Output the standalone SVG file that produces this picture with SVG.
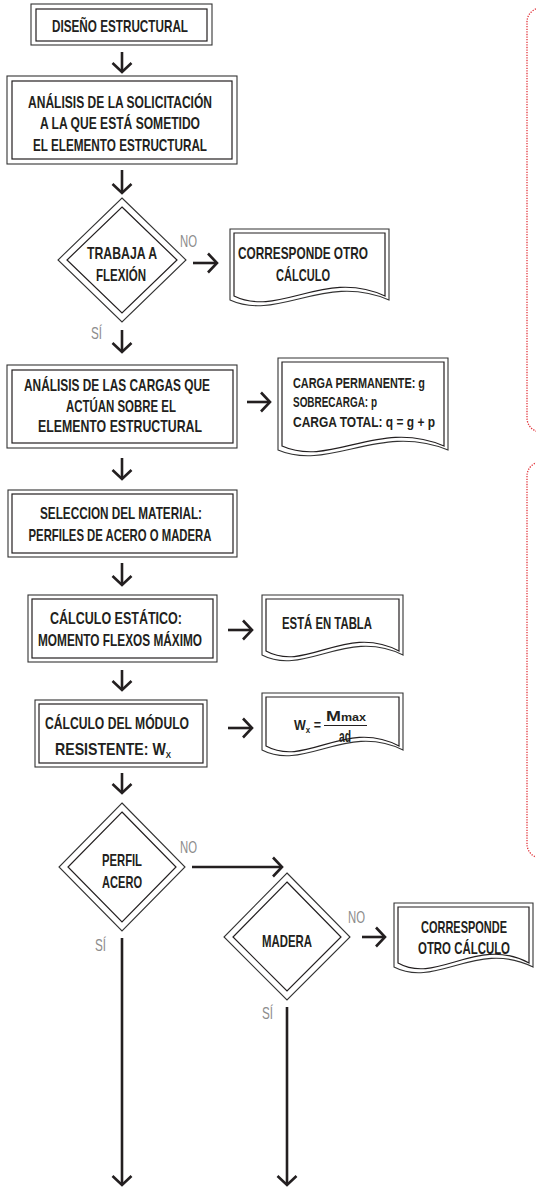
<svg xmlns="http://www.w3.org/2000/svg" width="536" height="1189" viewBox="0 0 536 1189">
<style>
.bg{fill:#fff}
.o{fill:#fff;stroke:#333;stroke-width:1.1}
.i{fill:none;stroke:#231f20;stroke-width:1.2}
.t{font-family:"Liberation Sans Narrow","Liberation Sans",Arial,sans-serif;font-weight:bold;font-size:17px;fill:#231f20;text-anchor:middle}
.s{font-family:"Liberation Sans Narrow","Liberation Sans",Arial,sans-serif;font-weight:bold;font-size:15px;fill:#231f20}
.l{font-family:"Liberation Sans Narrow","Liberation Sans",Arial,sans-serif;font-size:16.5px;fill:#8c8c8c}
.c{fill:none;stroke:#231f20;stroke-width:2.6;marker-end:url(#ah)}
.r{fill:none;stroke:#e2353c;stroke-width:1.3;stroke-dasharray:1.3 1.3}
</style>
<defs>
<marker id="ah" markerUnits="userSpaceOnUse" markerWidth="26" markerHeight="26" viewBox="-13 -13 26 26" refX="0" refY="0" orient="auto" overflow="visible">
<path d="M-9,-9.5 L0,0 L-9,9.5" fill="none" stroke="#231f20" stroke-width="2.6" stroke-linecap="butt"/>
</marker>
</defs>
<rect class="bg" x="0" y="0" width="536" height="1189"/>

<g id="notes">
<rect class="r" x="527" y="8" width="40" height="424" rx="14"/>
<rect class="r" x="527" y="462" width="40" height="396" rx="14"/>
</g>

<g id="n1">
<rect class="o" x="31" y="4" width="181" height="41"/>
<rect class="i" x="36" y="9" width="171" height="32"/>
<text class="t" x="120" y="31.5" textLength="136" lengthAdjust="spacingAndGlyphs">DISEÑO ESTRUCTURAL</text>
</g>

<g id="n2">
<rect class="o" x="7" y="76" width="230" height="88"/>
<rect class="i" x="12" y="81" width="220" height="78"/>
<text class="t" x="120" y="107.5" textLength="184" lengthAdjust="spacingAndGlyphs">ANÁLISIS DE LA SOLICITACIÓN</text>
<text class="t" x="120" y="129" textLength="160" lengthAdjust="spacingAndGlyphs">A LA QUE ESTÁ SOMETIDO</text>
<text class="t" x="120" y="150.5" textLength="174" lengthAdjust="spacingAndGlyphs">EL ELEMENTO ESTRUCTURAL</text>
</g>

<g id="d1">
<polygon class="o" points="122,198 186,260 122,322 58,260"/>
<polygon class="i" points="122,207 177,260 122,313 67,260"/>
<text class="t" x="122" y="258.5" textLength="70" lengthAdjust="spacingAndGlyphs">TRABAJA A</text>
<text class="t" x="121" y="280.5" textLength="50" lengthAdjust="spacingAndGlyphs">FLEXIÓN</text>
</g>

<g id="doc1">
<path class="o" d="M230,229 H389 V300 C325,272 278,322 230,300 Z"/>
<path class="i" d="M234,233 H385 V296 C325,268 279,318 234,296 Z"/>
<text class="t" x="303" y="258.5" textLength="130" lengthAdjust="spacingAndGlyphs">CORRESPONDE OTRO</text>
<text class="t" x="303" y="280.5" textLength="54" lengthAdjust="spacingAndGlyphs">CÁLCULO</text>
</g>

<g id="n3">
<rect class="o" x="7" y="365" width="230" height="83"/>
<rect class="i" x="12" y="370" width="221" height="73"/>
<text class="t" x="117" y="390.5" textLength="186" lengthAdjust="spacingAndGlyphs">ANÁLISIS DE LAS CARGAS QUE</text>
<text class="t" x="121" y="411.5" textLength="110" lengthAdjust="spacingAndGlyphs">ACTÚAN SOBRE EL</text>
<text class="t" x="120" y="432" textLength="164" lengthAdjust="spacingAndGlyphs">ELEMENTO ESTRUCTURAL</text>
</g>

<g id="doc2">
<path class="o" d="M278,358 H448 V450 C380,422 329,472 278,450 Z"/>
<path class="i" d="M282,362 H444 V446 C379,418 331,468 282,446 Z"/>
<text class="s" x="293" y="388" textLength="132" lengthAdjust="spacingAndGlyphs">CARGA PERMANENTE: g</text>
<text class="s" x="293" y="407" textLength="84" lengthAdjust="spacingAndGlyphs">SOBRECARGA: p</text>
<text class="s" x="293" y="427" textLength="142" lengthAdjust="spacingAndGlyphs">CARGA TOTAL: q = g + p</text>
</g>

<g id="n4">
<rect class="o" x="8" y="490" width="229" height="67"/>
<rect class="i" x="12" y="494" width="221" height="59"/>
<text class="t" x="121" y="518.5" textLength="162" lengthAdjust="spacingAndGlyphs">SELECCION DEL MATERIAL:</text>
<text class="t" x="120" y="540.5" textLength="183" lengthAdjust="spacingAndGlyphs">PERFILES DE ACERO O MADERA</text>
</g>

<g id="n5">
<rect class="o" x="28" y="595" width="189" height="67"/>
<rect class="i" x="32" y="599" width="181" height="59"/>
<text class="t" x="116" y="623.5" textLength="132" lengthAdjust="spacingAndGlyphs">CÁLCULO  ESTÁTICO:</text>
<text class="t" x="120" y="645.5" textLength="164" lengthAdjust="spacingAndGlyphs">MOMENTO FLEXOS MÁXIMO</text>
</g>

<g id="doc3">
<path class="o" d="M262,595 H403 V655 C347,627 304,677 262,655 Z"/>
<path class="i" d="M266,599 H399 V651 C346,623 306,673 266,651 Z"/>
<text class="t" x="327" y="628.5" textLength="90" lengthAdjust="spacingAndGlyphs">ESTÁ EN TABLA</text>
</g>

<g id="n6">
<rect class="o" x="35" y="700" width="172" height="67"/>
<rect class="i" x="39" y="704" width="164" height="59"/>
<text class="t" x="117" y="728.5" textLength="144" lengthAdjust="spacingAndGlyphs">CÁLCULO  DEL MÓDULO</text>
<text class="t" x="113" y="755" textLength="116" lengthAdjust="spacingAndGlyphs">RESISTENTE: W<tspan font-size="9.5" dy="2.5">X</tspan></text>
</g>

<g id="doc4">
<path class="o" d="M262,693 H403 V750 C347,722 304,772 262,750 Z"/>
<path class="i" d="M266,697 H399 V746 C346,718 306,768 266,746 Z"/>
<text class="s" x="294" y="730" textLength="27" lengthAdjust="spacingAndGlyphs" font-size="16.5">W<tspan font-size="9.5" dy="3">x</tspan><tspan dy="-3"> =</tspan></text>
<line x1="324" y1="725.5" x2="367" y2="725.5" stroke="#231f20" stroke-width="1.1"/>
<text class="s" x="326" y="720.5" textLength="40" lengthAdjust="spacingAndGlyphs" font-size="16.5">M<tspan font-size="10.5">max</tspan></text>
<text class="t" x="345" y="742" font-size="11" textLength="12" lengthAdjust="spacingAndGlyphs">ad</text>
</g>

<g id="d2">
<polygon class="o" points="122,803 185,867 122,931 59,867"/>
<polygon class="i" points="122,812 176,867 122,922 68,867"/>
<text class="t" x="122" y="865.5" textLength="40" lengthAdjust="spacingAndGlyphs">PERFIL</text>
<text class="t" x="122" y="887.5" textLength="40" lengthAdjust="spacingAndGlyphs">ACERO</text>
</g>

<g id="d3">
<polygon class="o" points="287,873 350,937 287,1000 224,937"/>
<polygon class="i" points="287,882 341,937 287,991 233,937"/>
<text class="t" x="287" y="946.5" textLength="50" lengthAdjust="spacingAndGlyphs">MADERA</text>
</g>

<g id="doc5">
<path class="o" d="M394,903 H533 V967 C477,939 436,989 394,967 Z"/>
<path class="i" d="M398,907 H529 V963 C477,935 437,985 398,963 Z"/>
<text class="t" x="464" y="932.5" textLength="86" lengthAdjust="spacingAndGlyphs">CORRESPONDE</text>
<text class="t" x="464" y="953.5" textLength="92" lengthAdjust="spacingAndGlyphs">OTRO CÁLCULO</text>
</g>

<g id="connectors">
<line class="c" x1="122" y1="52" x2="122" y2="72"/>
<line class="c" x1="122" y1="170" x2="122" y2="193"/>
<line class="c" x1="193" y1="263" x2="217" y2="263"/>
<line class="c" x1="122" y1="330" x2="122" y2="352"/>
<line class="c" x1="247" y1="402" x2="270" y2="402"/>
<line class="c" x1="122" y1="458" x2="122" y2="479"/>
<line class="c" x1="122" y1="563" x2="122" y2="585"/>
<line class="c" x1="228" y1="630" x2="252" y2="630"/>
<line class="c" x1="122" y1="670" x2="122" y2="690"/>
<line class="c" x1="228" y1="728" x2="252" y2="728"/>
<line class="c" x1="122" y1="773" x2="122" y2="793"/>
<line class="c" x1="192" y1="867" x2="282" y2="867"/>
<line class="c" x1="362" y1="937" x2="385" y2="937"/>
<line class="c" x1="122" y1="938" x2="122" y2="1185"/>
<line class="c" x1="287" y1="1007" x2="287" y2="1185"/>
<text class="l" x="180" y="246.5" textLength="17" lengthAdjust="spacingAndGlyphs">NO</text>
<text class="l" x="91" y="338.5" textLength="11" lengthAdjust="spacingAndGlyphs">SÍ</text>
<text class="l" x="180" y="852.5" textLength="17" lengthAdjust="spacingAndGlyphs">NO</text>
<text class="l" x="95" y="950.5" textLength="11" lengthAdjust="spacingAndGlyphs">SÍ</text>
<text class="l" x="348" y="922.5" textLength="17" lengthAdjust="spacingAndGlyphs">NO</text>
<text class="l" x="262" y="1018.5" textLength="11" lengthAdjust="spacingAndGlyphs">SÍ</text>
</g>
</svg>
